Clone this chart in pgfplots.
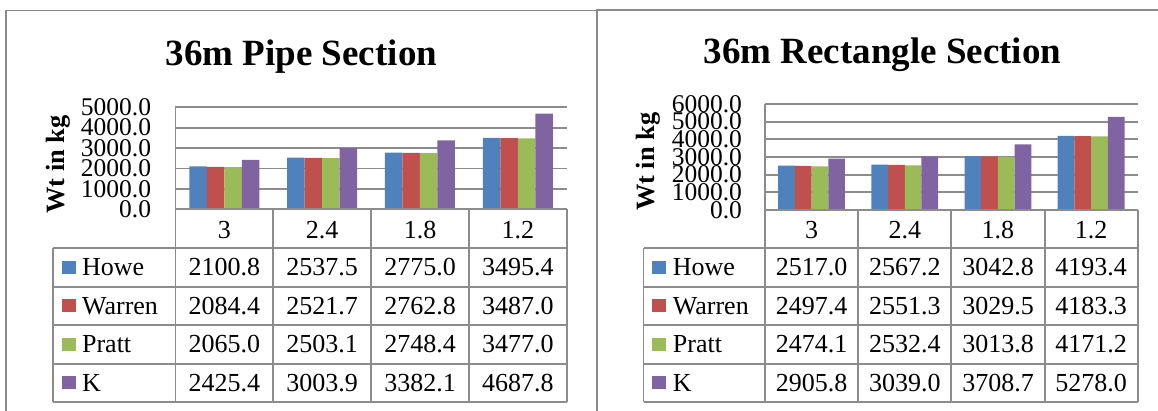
\documentclass[border=0pt]{standalone}
\usepackage{pgfplots}
\pgfplotsset{compat=1.18}
\usepackage{pgfplotstable}
\usepackage{fontspec}
\setmainfont{Liberation Serif}
\definecolor{cHowe}{HTML}{4F81BD}
\definecolor{cWarren}{HTML}{C0504D}
\definecolor{cPratt}{HTML}{9BBB59}
\definecolor{cK}{HTML}{8064A2}
\definecolor{gridgray}{HTML}{8C8C8C}
\definecolor{framegray}{HTML}{8A8A8A}

\pgfplotstableread{
x Howe Warren Pratt K
0 2100.8 2084.4 2065.0 2425.4
1 2537.5 2521.7 2503.1 3003.9
2 2775.0 2762.8 2748.4 3382.1
3 3495.4 3487.0 3477.0 4687.8
}\pipedata
\pgfplotstableread{
x Howe Warren Pratt K
0 2517.0 2497.4 2474.1 2905.8
1 2567.2 2551.3 2532.4 3039.0
2 3042.8 3029.5 3013.8 3708.7
3 4193.4 4183.3 4171.2 5278.0
}\rectdata

\newcommand\tickfont{\fontsize{12.75pt}{13pt}\selectfont}
\newcommand\cellfont{\fontsize{13pt}{14pt}\selectfont}
\newcommand\titlefont{\fontsize{18.5pt}{20pt}\selectfont\bfseries}
\newcommand\labfont{\fontsize{13.2pt}{14pt}\selectfont\bfseries}
\newcommand\fmt[1]{\pgfmathprintnumber[fixed,fixed zerofill,precision=1,1000 sep={},assume math mode=true]{#1}}

\pgfplotsset{
  every axis title/.style={font=\titlefont, anchor=base},
  excelbar/.style={
    scale only axis,
    xmin=-0.5, xmax=3.5, ymin=0,
    xtick={0,1,2,3},
    xticklabels={3,2.4,1.8,1.2},
    xticklabel style={font=\cellfont, anchor=center, inner sep=0pt},
    axis line style={draw=none},
    major tick length=0pt,
    ymajorgrids,
    grid style={draw=gridgray, line width=0.9pt},
    yticklabel={\fmt{\tick}},
    ybar=0pt,
    ylabel={Wt in kg},
    ylabel style={font=\labfont, anchor=center},
    clip=false,
  },
}

\begin{document}
\begin{tikzpicture}
\useasboundingbox (0,0) rectangle (579pt,-205.5pt);

% ---------------- left chart ----------------
\begin{axis}[excelbar,
  at={(87.75pt,-104.65pt)}, anchor=south west,
  width=195.6pt, height=51pt,
  ymax=5000, ytick={0,1000,...,5000},
  bar width=8.75pt,
  yticklabel style={font=\tickfont, inner sep=0pt, anchor=east, xshift=-12pt},
  xticklabel style={yshift=-10.35pt},
  title={36m Pipe Section},
  title style={at={(rel axis cs:0.322,1.405)}},
  ylabel style={at={(rel axis cs:-0.299,0.439)}},
]
\addplot[fill=cHowe, draw=none] table[x=x,y=Howe]{\pipedata};
\addplot[fill=cWarren, draw=none] table[x=x,y=Warren]{\pipedata};
\addplot[fill=cPratt, draw=none] table[x=x,y=Pratt]{\pipedata};
\addplot[fill=cK, draw=none] table[x=x,y=K]{\pipedata};
\end{axis}

% ---------------- right chart ----------------
\begin{axis}[excelbar,
  at={(382.5pt,-105pt)}, anchor=south west,
  width=186.35pt, height=53pt,
  ymax=6000, ytick={0,1000,...,6000},
  bar width=8.35pt,
  yticklabel style={font=\tickfont, inner sep=0pt, anchor=east, xshift=-11.35pt},
  xticklabel style={yshift=-10pt},
  title={36m Rectangle Section},
  title style={at={(rel axis cs:0.315,1.384)}},
  ylabel style={at={(rel axis cs:-0.314,0.456)}},
]
\addplot[fill=cHowe, draw=none] table[x=x,y=Howe]{\rectdata};
\addplot[fill=cWarren, draw=none] table[x=x,y=Warren]{\rectdata};
\addplot[fill=cPratt, draw=none] table[x=x,y=Pratt]{\rectdata};
\addplot[fill=cK, draw=none] table[x=x,y=K]{\rectdata};
\end{axis}

% ---------------- frames and data tables (pixel grid) ----------------
\begin{scope}[x=0.5pt,y=-0.5pt]
  % panel frames
  \draw[framegray, line width=0.65pt] (6,411) -- (6,10.7) -- (597,10.7);
  \draw[framegray, line width=0.65pt] (597,411) -- (597,10) -- (1158,10);

  % left table grid
  \begin{scope}[draw=gridgray, line width=0.95pt]
    \draw (175.5,107.3) -- (175.5,402.3);
    \foreach \xx in {273.3,371.1,468.9,566.7} \draw (\xx,209.3) -- (\xx,402.3);
    \draw (53,248.3) -- (53,402.3);
    \draw (175.5,209.3) -- (566.7,209.3);
    \foreach \yy in {248.3,286.8,325.3,363.8,402.3} \draw (53,\yy) -- (566.7,\yy);
  \end{scope}
  % right table grid
  \begin{scope}[draw=gridgray, line width=0.95pt]
    \draw (765,104) -- (765,402.3);
    \foreach \xx in {858.2,951.4,1044.6,1137.7} \draw (\xx,210) -- (\xx,402.3);
    \draw (643.5,248.3) -- (643.5,402.3);
    \draw (765,210) -- (1137.7,210);
    \foreach \yy in {248.3,286.8,325.3,363.8,402.3} \draw (643.5,\yy) -- (1137.7,\yy);
  \end{scope}

  % left table legend and values
  \foreach \c/\col [count=\i from 0] in {Howe/cHowe,Warren/cWarren,Pratt/cPratt,K/cK}{
    \fill[\col] (62.3,{248.3+38.5*\i+12.4}) rectangle ++(13.4,13.2);
    \node[anchor=base west, inner sep=0pt, font=\cellfont] at (81.7,{248.3+38.5*\i+27.7}) {\c};
    \foreach \r in {0,1,2,3}{
      \pgfplotstablegetelem{\r}{\c}\of\pipedata
      \node[anchor=base, inner sep=0pt, font=\cellfont] at ({175.5+97.8*(\r+0.5)},{248.3+38.5*\i+27.7}) {\fmt{\pgfplotsretval}};
    }
  }
  % right table legend and values
  \foreach \c/\col [count=\i from 0] in {Howe/cHowe,Warren/cWarren,Pratt/cPratt,K/cK}{
    \fill[\col] (652,{248.3+38.5*\i+12.4}) rectangle ++(13.6,13.2);
    \node[anchor=base west, inner sep=0pt, font=\cellfont] at (672.5,{248.3+38.5*\i+27.7}) {\c};
    \foreach \r in {0,1,2,3}{
      \pgfplotstablegetelem{\r}{\c}\of\rectdata
      \node[anchor=base, inner sep=0pt, font=\cellfont] at ({765+93.2*(\r+0.5)},{248.3+38.5*\i+27.7}) {\fmt{\pgfplotsretval}};
    }
  }
\end{scope}
\end{tikzpicture}
\end{document}
